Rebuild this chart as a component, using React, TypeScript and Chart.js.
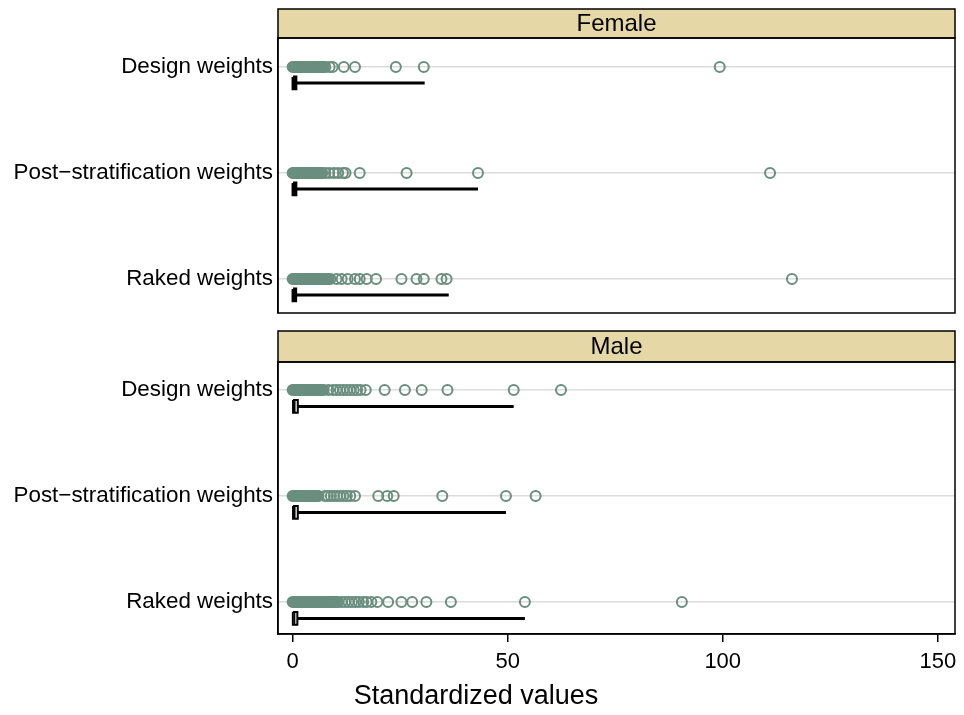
import React, { useEffect, useRef } from 'react';
import { Chart, registerables } from 'chart.js';
Chart.register(...registerables);

const rowLabels = ['Design weights', 'Post\u2212stratification weights', 'Raked weights'];
const panelTitles = ['Female', 'Male'];
const xTickValues = [0, 50, 100, 150];
const axisTitle = 'Standardized values';

// Female points
const femaleDesign = [0, 0.3, 0.6, 0.9, 1.2, 1.5, 1.8, 2.1, 2.4, 2.7, 3.0, 3.3, 3.6, 3.9, 4.2, 4.5, 4.8, 5.1, 5.4, 5.7, 6.0, 6.3, 6.6, 6.9, 7.2, 7.6, 8.6, 9.3, 11.9, 14.5, 24.0, 30.5, 99.3];
const femalePost = [0, 0.3, 0.6, 0.9, 1.2, 1.5, 1.8, 2.1, 2.4, 2.7, 3.0, 3.3, 3.6, 3.9, 4.2, 4.5, 4.8, 5.1, 5.4, 5.7, 6.0, 6.3, 6.6, 6.9, 7.6, 8.5, 9.6, 10.6, 11.7, 12.3, 15.6, 26.5, 43.1, 111.0];
const femaleRaked = [0, 0.3, 0.6, 0.9, 1.2, 1.5, 1.8, 2.1, 2.4, 2.7, 3.0, 3.3, 3.6, 3.9, 4.2, 4.5, 4.8, 5.1, 5.4, 5.7, 6.0, 6.3, 6.6, 6.9, 7.2, 7.5, 7.8, 8.1, 8.4, 8.8, 10.2, 11.4, 12.8, 14.5, 15.6, 17.2, 19.4, 25.3, 28.8, 30.5, 34.6, 35.8, 116.1];
// Male points
const maleDesign = [0, 0.3, 0.6, 0.9, 1.2, 1.5, 1.8, 2.1, 2.4, 2.7, 3.0, 3.3, 3.6, 3.9, 4.2, 4.5, 4.8, 5.1, 5.4, 5.7, 6.0, 6.3, 6.6, 6.9, 7.2, 8.3, 9.4, 10.2, 11.0, 11.8, 12.6, 13.4, 14.2, 15.0, 15.8, 17.0, 21.4, 26.1, 30.0, 36.0, 51.4, 62.4];
const malePost = [0, 0.3, 0.6, 0.9, 1.2, 1.5, 1.8, 2.1, 2.4, 2.7, 3.0, 3.3, 3.6, 3.9, 4.2, 4.5, 4.8, 5.1, 5.4, 5.7, 6.0, 7.5, 8.2, 8.9, 9.6, 10.3, 11.0, 11.8, 12.6, 13.4, 14.5, 19.9, 22.0, 23.5, 34.8, 49.6, 56.5];
const maleRaked = [0, 0.3, 0.6, 0.9, 1.2, 1.5, 1.8, 2.1, 2.4, 2.7, 3.0, 3.3, 3.6, 3.9, 4.2, 4.5, 4.8, 5.1, 5.4, 5.7, 6.0, 6.3, 6.6, 6.9, 7.2, 7.5, 7.8, 8.1, 8.4, 8.7, 9.0, 9.3, 9.6, 9.9, 10.2, 10.6, 11.4, 12.2, 13.0, 13.8, 14.6, 15.4, 16.4, 17.2, 18.3, 19.7, 22.2, 25.3, 27.8, 31.1, 36.8, 54.0, 90.5];

// Box plot summaries (per row)
const femaleQ1 = [0.1, 0.1, 0.1];
const femaleMedian = [0.3, 0.3, 0.3];
const femaleQ3 = [0.75, 0.75, 0.7];
const femaleWhisker = [30.7, 43.1, 36.3];
const maleQ1 = [0.1, 0.1, 0.05];
const maleMedian = [0.5, 0.5, 0.45];
const maleQ3 = [1.2, 1.2, 1.1];
const maleWhisker = [51.4, 49.6, 54.0];

const FONT = "'Liberation Sans', Arial, Helvetica, sans-serif";
const POINT_COLOR = '#6a8e7f';
const STRIP_COLOR = '#e5d8a6';

type PanelGeom = { yMin: number; yMax: number; boxOff: number; boxHalf: number; boxLine: number; padTop: number; padBottom: number; stripH: number };

function buildConfig(title: string, series: number[][], q1: number[], med: number[], q3: number[], whisk: number[], g: PanelGeom, showX: boolean): any {
  const datasets: any[] = [];
  series.forEach((vals, i) => {
    datasets.push({
      type: 'line', showLine: true,
      data: [{ x: q3[i], y: i + g.boxOff }, { x: whisk[i], y: i + g.boxOff }],
      borderColor: '#000', borderWidth: 3, pointRadius: 0, fill: false, tension: 0,
    });
    datasets.push({
      type: 'line', showLine: true,
      data: [
        { x: q1[i], y: i + g.boxOff - g.boxHalf },
        { x: q3[i], y: i + g.boxOff - g.boxHalf },
        { x: q3[i], y: i + g.boxOff + g.boxHalf },
        { x: q1[i], y: i + g.boxOff + g.boxHalf },
        { x: q1[i], y: i + g.boxOff - g.boxHalf },
      ],
      borderColor: '#000', borderWidth: g.boxLine, pointRadius: 0, fill: false, tension: 0,
    });
    datasets.push({
      type: 'line', showLine: true,
      data: [{ x: med[i], y: i + g.boxOff - g.boxHalf }, { x: med[i], y: i + g.boxOff + g.boxHalf }],
      borderColor: '#000', borderWidth: 1.5, pointRadius: 0, fill: false, tension: 0,
    });
    datasets.push({
      type: 'scatter',
      data: vals.map((v) => ({ x: v, y: i })),
      pointRadius: 5, pointBorderWidth: 2,
      borderColor: POINT_COLOR, backgroundColor: 'rgba(0,0,0,0)',
      pointBackgroundColor: 'rgba(0,0,0,0)', pointBorderColor: POINT_COLOR,
      showLine: false,
    });
  });

  const framePlugin = {
    id: 'frame_' + title,
    afterDraw(chart: any) {
      const { ctx, chartArea } = chart;
      const { left, right, top, bottom } = chartArea;
      ctx.save();
      ctx.fillStyle = STRIP_COLOR;
      ctx.fillRect(left, top - g.stripH, right - left, g.stripH);
      ctx.strokeStyle = '#000';
      ctx.lineWidth = 1.5;
      ctx.strokeRect(left, top - g.stripH, right - left, g.stripH);
      ctx.strokeRect(left, top, right - left, bottom - top);
      ctx.fillStyle = '#000';
      ctx.font = `24px ${FONT}`;
      ctx.textAlign = 'center';
      ctx.textBaseline = 'middle';
      ctx.fillText(title, (left + right) / 2, top - g.stripH / 2 + 1);
      if (showX) {
        ctx.font = `27px ${FONT}`;
        ctx.textBaseline = 'middle';
        ctx.fillText(axisTitle, chart.width / 2 - 6, chart.height - 18);
      }
      ctx.restore();
    },
  };

  return {
    type: 'scatter',
    data: { datasets },
    plugins: [framePlugin],
    options: {
      animation: false,
      responsive: false,
      devicePixelRatio: 1,
      events: [],
      layout: { padding: { left: 0, right: 9, top: g.padTop, bottom: g.padBottom } },
      plugins: { legend: { display: false }, tooltip: { enabled: false }, title: { display: false } },
      scales: {
        x: {
          type: 'linear', min: -3.4, max: 154, display: showX,
          afterBuildTicks: (s: any) => { s.ticks = xTickValues.map((v) => ({ value: v })); },
          afterFit: (s: any) => { if (showX) s.height = 81; },
          grid: { drawOnChartArea: false, drawTicks: true, tickLength: 8, color: '#000', lineWidth: 1.5 },
          border: { display: true, color: '#000', width: 1.5 },
          ticks: { color: '#000', font: { size: 22, family: FONT }, padding: 7, maxRotation: 0, autoSkip: false },
          title: { display: false },
        },
        y: {
          type: 'linear', reverse: true, min: g.yMin, max: g.yMax,
          afterBuildTicks: (s: any) => { s.ticks = rowLabels.map((_, i) => ({ value: i })); },
          afterFit: (s: any) => { s.width = 278; },
          grid: { color: '#dcdcdc', lineWidth: 1.5, drawTicks: false },
          border: { display: true, color: '#000', width: 1.5 },
          ticks: { color: '#000', font: { size: 22.4, family: FONT }, padding: 5, autoSkip: false, callback: (v: any) => rowLabels[v] ?? '' },
        },
      },
    },
  };
}

function Panel(props: { config: any; width: number; height: number; top: number }) {
  const ref = useRef<HTMLCanvasElement | null>(null);
  useEffect(() => {
    if (!ref.current) return;
    const chart = new Chart(ref.current, props.config);
    return () => chart.destroy();
  }, []);
  return (
    <canvas
      ref={ref}
      width={props.width}
      height={props.height}
      style={{ position: 'absolute', left: 0, top: props.top, width: props.width, height: props.height }}
    />
  );
}

export default function App() {
  const topGeom: PanelGeom = { yMin: -0.274, yMax: 2.321, boxOff: 0.15, boxHalf: 0.055, boxLine: 3, padTop: 38, padBottom: 32, stripH: 29 };
  const botGeom: PanelGeom = { yMin: -0.264, yMax: 2.302, boxOff: 0.155, boxHalf: 0.06, boxLine: 2, padTop: 42, padBottom: 0, stripH: 31 };
  const femaleCfg = buildConfig(panelTitles[0], [femaleDesign, femalePost, femaleRaked], femaleQ1, femaleMedian, femaleQ3, femaleWhisker, topGeom, false);
  const maleCfg = buildConfig(panelTitles[1], [maleDesign, malePost, maleRaked], maleQ1, maleMedian, maleQ3, maleWhisker, botGeom, true);
  return (
    <div style={{ position: 'absolute', left: 0, top: 0, width: 964, height: 715, background: '#fff' }}>
      <Panel config={femaleCfg} width={964} height={345} top={0} />
      <Panel config={maleCfg} width={964} height={395} top={320} />
    </div>
  );
}
